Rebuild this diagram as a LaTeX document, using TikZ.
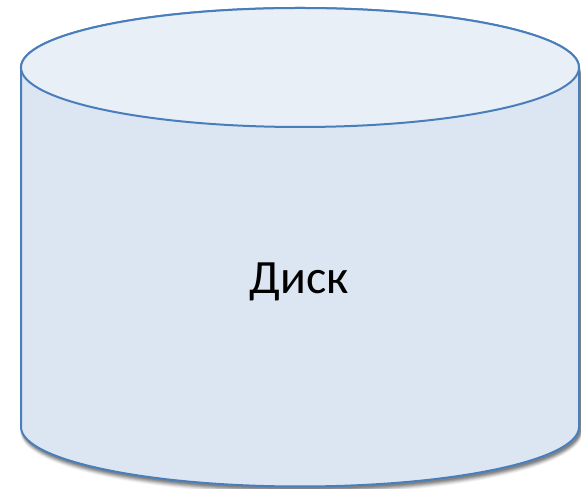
\documentclass[tikz,border=0pt]{standalone}
\usepackage{fontspec}
\setmainfont{Carlito}
\definecolor{edge}{HTML}{4A7EBB}
\definecolor{bodyfill}{HTML}{DCE6F2}
\definecolor{topfill}{HTML}{E9EFF7}
\begin{document}
\begin{tikzpicture}[x=1bp,y=1bp,
  outline/.style={draw=edge,line width=2bp}]
\useasboundingbox (0,0) rectangle (581,489);
\def\cylpath{(21,421.5) -- (21,62) arc[start angle=180,end angle=360,x radius=279bp,y radius=59.5bp] -- (579,421.5) arc[start angle=0,end angle=180,x radius=279bp,y radius=59.5bp] -- cycle}
% shadow
\foreach \d/\o in {1/0.12,2/0.12,3/0.11,4/0.10,5/0.08,6/0.06,7/0.04}{
  \fill[black,opacity=\o] [shift={(1.5,-1.5-0.6*\d)}] (21-0.3*\d,421.5) -- (21-0.3*\d,62) arc[start angle=180,end angle=360,x radius=279bp+0.3*\d bp,y radius=59.5bp+0.3*\d bp] -- (579+0.3*\d,421.5) -- cycle;
}
% body
\fill[bodyfill] \cylpath;
\draw[outline] \cylpath;
% top ellipse
\fill[topfill] (300,421.5) ellipse[x radius=279bp,y radius=59.5bp];
\draw[outline] (300,421.5) ellipse[x radius=279bp,y radius=59.5bp];
\node (label) at (299,207) {\fontsize{48}{56}\selectfont Диск};
\end{tikzpicture}
\end{document}
